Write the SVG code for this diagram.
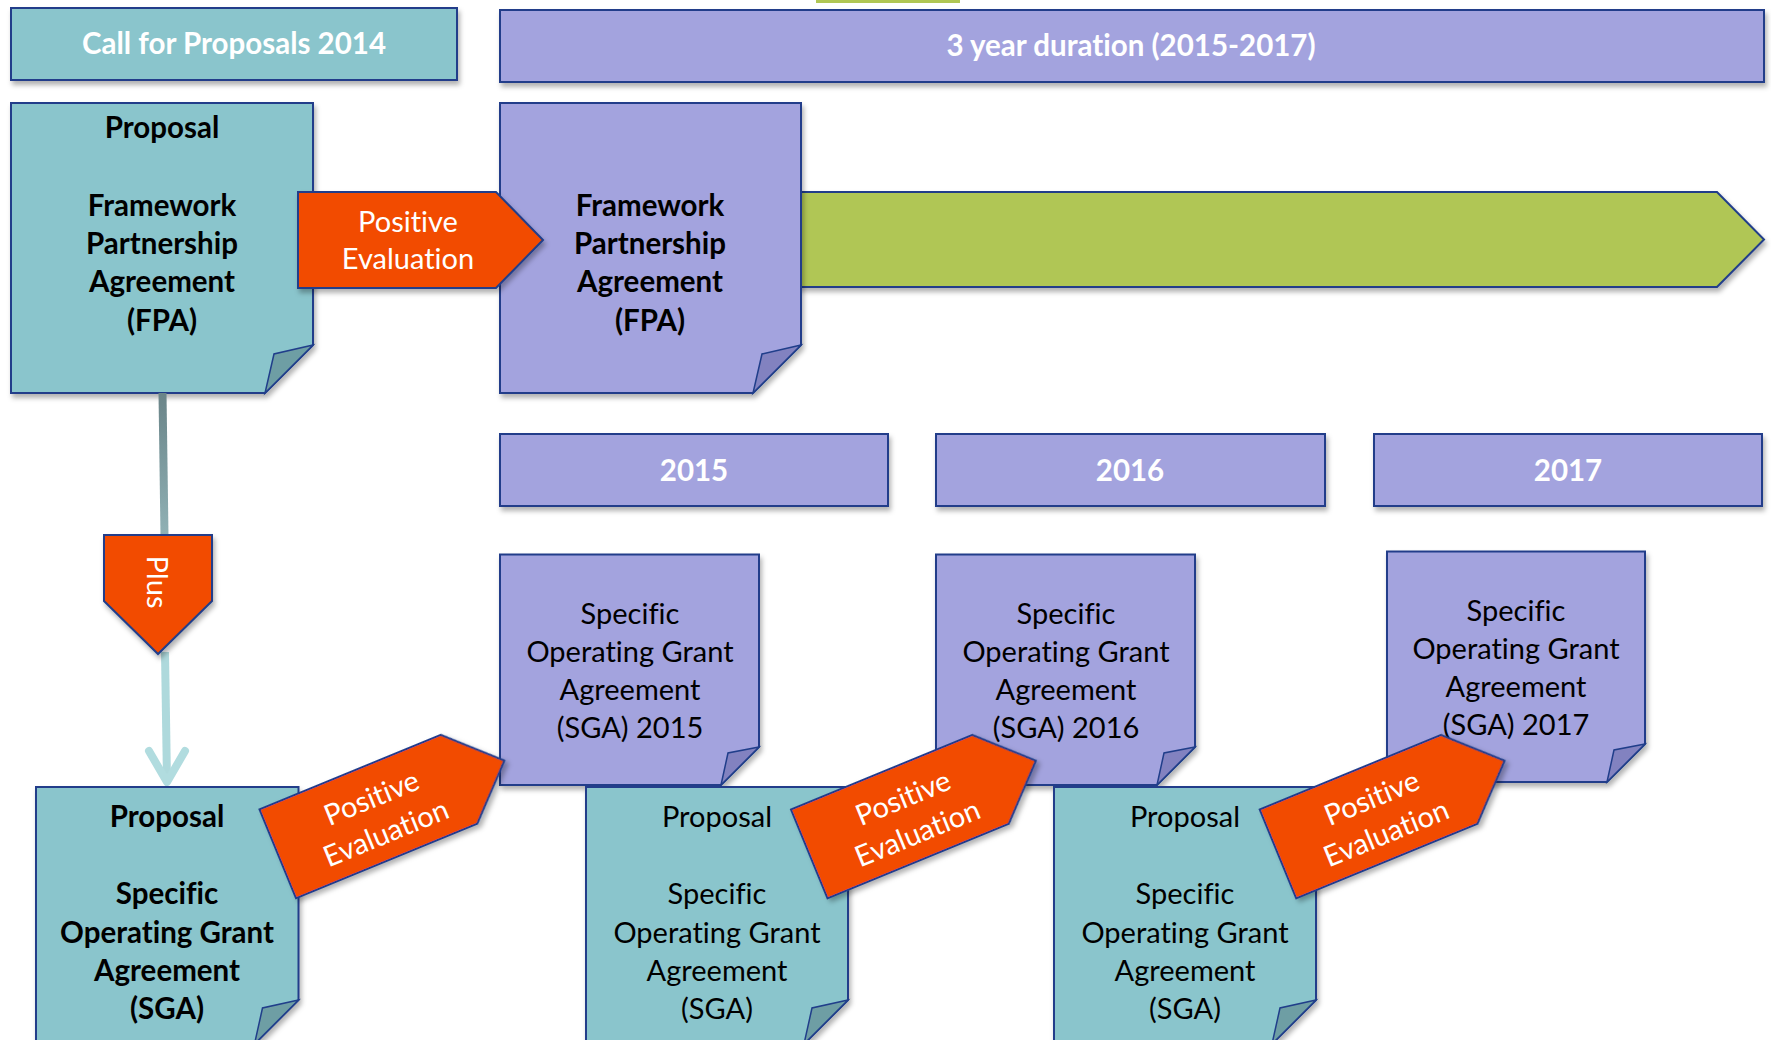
<svg xmlns="http://www.w3.org/2000/svg" width="1771" height="1040" viewBox="0 0 1771 1040">
<defs>
<filter id="sh" x="-10%" y="-10%" width="120%" height="130%">
<feDropShadow dx="2" dy="4" stdDeviation="2.5" flood-color="#000" flood-opacity="0.3"/>
</filter>
<linearGradient id="gUp" gradientUnits="userSpaceOnUse" x1="0" y1="393" x2="0" y2="535">
<stop offset="0" stop-color="#6A8488"/><stop offset="1" stop-color="#90B1B5"/>
</linearGradient>
<style>
.teal{fill:#8AC5CC;stroke:#203E8A;stroke-width:2;filter:url(#sh)}
.purp{fill:#A3A3DE;stroke:#203E8A;stroke-width:2;filter:url(#sh)}
.orng{fill:#F24B00;stroke:#203E8A;stroke-width:2;filter:url(#sh)}
.grn{fill:#B0C654;stroke:#203E8A;stroke-width:2;filter:url(#sh)}
.foldT{fill:#6E9EA4;stroke:#203E8A;stroke-width:1.5}
.foldP{fill:#8282C0;stroke:#203E8A;stroke-width:1.5}
text{font-family:Lato,"Liberation Sans",sans-serif;font-size:29px;text-anchor:middle;font-variant-ligatures:none}
.w{fill:#fff}
.b{font-weight:bold;font-size:29.5px}
.k{fill:#000}
</style>
</defs>
<rect x="816" y="0" width="144" height="3" fill="#B0C654"/>

<g id="call2014">
<rect class="teal" x="11" y="8" width="446" height="72"/>
<text class="w b" x="234" y="54">Call for Proposals 2014</text>
</g>
<g id="duration">
<rect class="purp" x="500" y="10" width="1264" height="72"/>
<text class="w b" x="1131" y="56">3 year duration (2015-2017)</text>
</g>

<g id="timeline-arrow">
<path class="grn" d="M790,192 H1717 L1764,239.5 L1717,287 H790 Z"/>
</g>

<g id="proposal-fpa">
<path class="teal" d="M11,103 H313 V345 L265,393 H11 Z"/>
<path class="foldT" d="M313,345 L274,354 L265,393 Z"/>
<text class="k b" x="162" y="138">Proposal</text>
<text class="k b" x="162" y="216">Framework</text>
<text class="k b" x="162" y="254">Partnership</text>
<text class="k b" x="162" y="292">Agreement</text>
<text class="k b" x="162" y="331">(FPA)</text>
</g>

<g id="fpa">
<path class="purp" d="M500,103 H801 V345 L753,393 H500 Z"/>
<path class="foldP" d="M801,345 L762,354 L753,393 Z"/>
<text class="k b" x="650" y="216">Framework</text>
<text class="k b" x="650" y="254">Partnership</text>
<text class="k b" x="650" y="292">Agreement</text>
<text class="k b" x="650" y="331">(FPA)</text>
</g>

<g id="eval-fpa">
<path class="orng" d="M298,192 H496 L543,240 L496,288 H298 Z"/>
<text class="w" x="408" y="232">Positive</text>
<text class="w" x="408" y="269">Evaluation</text>
</g>

<g id="y2015">
<rect class="purp" x="500" y="434" width="388" height="72"/>
<text class="w b" x="694" y="481">2015</text>
</g>
<g id="y2016">
<rect class="purp" x="936" y="434" width="389" height="72"/>
<text class="w b" x="1130" y="481">2016</text>
</g>
<g id="y2017">
<rect class="purp" x="1374" y="434" width="388" height="72"/>
<text class="w b" x="1568" y="481">2017</text>
</g>

<g id="sga2015">
<path class="purp" d="M500,554.5 H759 V747 L721,785 H500 Z"/>
<path class="foldP" d="M759,747 L728,753 L721,785 Z"/>
<text class="k" x="630" y="623.5">Specific</text>
<text class="k" x="630" y="661.5">Operating Grant</text>
<text class="k" x="630" y="699.5">Agreement</text>
<text class="k" x="630" y="737.5">(SGA) 2015</text>
</g>
<g id="sga2016">
<path class="purp" d="M936,554.5 H1195 V747 L1157,785 H936 Z"/>
<path class="foldP" d="M1195,747 L1164,753 L1157,785 Z"/>
<text class="k" x="1066" y="623.5">Specific</text>
<text class="k" x="1066" y="661.5">Operating Grant</text>
<text class="k" x="1066" y="699.5">Agreement</text>
<text class="k" x="1066" y="737.5">(SGA) 2016</text>
</g>
<g id="sga2017">
<path class="purp" d="M1387,551.5 H1645 V744 L1607,782 H1387 Z"/>
<path class="foldP" d="M1645,744 L1614,750 L1607,782 Z"/>
<text class="k" x="1516" y="620.5">Specific</text>
<text class="k" x="1516" y="658.5">Operating Grant</text>
<text class="k" x="1516" y="696.5">Agreement</text>
<text class="k" x="1516" y="734.5">(SGA) 2017</text>
</g>

<g id="connectors">
<line x1="162.5" y1="393" x2="164.5" y2="536" stroke="url(#gUp)" stroke-width="8"/>
<line x1="165" y1="652" x2="167" y2="782" stroke="#AED9DC" stroke-width="8"/>
<polyline points="149,751 167,782 185,751" fill="none" stroke="#B1DCDF" stroke-width="8" stroke-linecap="round" stroke-linejoin="round"/>
</g>

<g id="plus">
<path class="orng" d="M104,535 H212 V601 L158,654 L104,601 Z"/>
<text class="w" transform="translate(157,582) rotate(90)" x="0" y="10">Plus</text>
</g>

<g id="proposal-sga-1">
<path class="teal" d="M36,787 H298.5 V1000 L254.5,1044 H36 Z"/>
<path class="foldT" d="M298.5,1000 L262.5,1008 L254.5,1044 Z"/>
<text class="k b" x="167" y="826.5">Proposal</text>
<text class="k b" x="167" y="904">Specific</text>
<text class="k b" x="167" y="942.5">Operating Grant</text>
<text class="k b" x="167" y="981">Agreement</text>
<text class="k b" x="167" y="1019">(SGA)</text>
</g>
<g id="proposal-sga-2">
<path class="teal" d="M586,787 H848 V1000 L804,1044 H586 Z"/>
<path class="foldT" d="M848,1000 L812,1008 L804,1044 Z"/>
<text class="k" x="717" y="826.5">Proposal</text>
<text class="k" x="717" y="904">Specific</text>
<text class="k" x="717" y="942.5">Operating Grant</text>
<text class="k" x="717" y="981">Agreement</text>
<text class="k" x="717" y="1019">(SGA)</text>
</g>
<g id="proposal-sga-3">
<path class="teal" d="M1054,787 H1316 V1000 L1272,1044 H1054 Z"/>
<path class="foldT" d="M1316,1000 L1280,1008 L1272,1044 Z"/>
<text class="k" x="1185" y="826.5">Proposal</text>
<text class="k" x="1185" y="904">Specific</text>
<text class="k" x="1185" y="942.5">Operating Grant</text>
<text class="k" x="1185" y="981">Agreement</text>
<text class="k" x="1185" y="1019">(SGA)</text>
</g>

<g id="eval-sga-1" transform="translate(259.5,809.4) rotate(-22.35)">
<path class="orng" d="M0,0 H196 L245,48 L196,96 H0 Z"/>
<text class="w" x="108" y="42">Positive</text>
<text class="w" x="108" y="80">Evaluation</text>
</g>
<g id="eval-sga-2" transform="translate(791,809.5) rotate(-22.35)">
<path class="orng" d="M0,0 H196 L245,48 L196,96 H0 Z"/>
<text class="w" x="108" y="42">Positive</text>
<text class="w" x="108" y="80">Evaluation</text>
</g>
<g id="eval-sga-3" transform="translate(1259.7,809.5) rotate(-22.35)">
<path class="orng" d="M0,0 H196 L245,48 L196,96 H0 Z"/>
<text class="w" x="108" y="42">Positive</text>
<text class="w" x="108" y="80">Evaluation</text>
</g>
</svg>
